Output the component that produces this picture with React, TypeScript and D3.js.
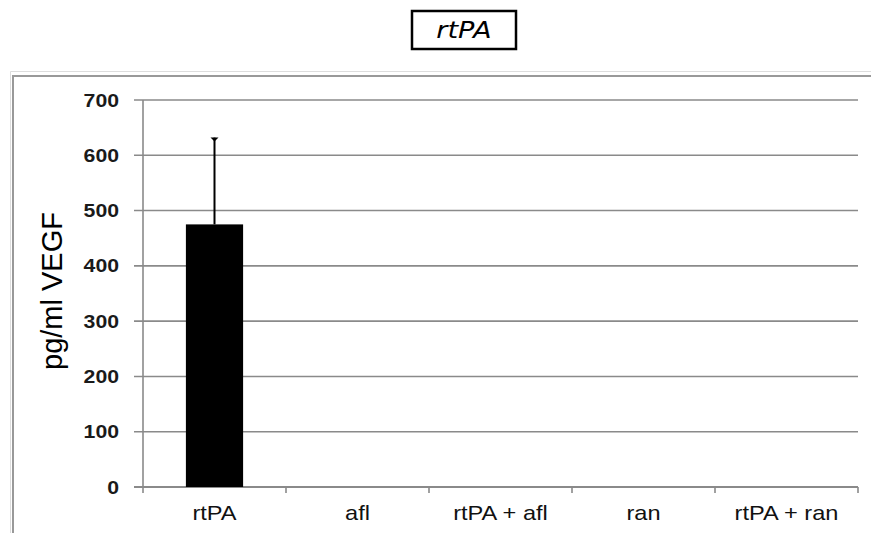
import React from "react";
import * as d3 from "d3";

const categories = ["rtPA", "afl", "rtPA + afl", "ran", "rtPA + ran"];
const values = [475, 0, 0, 0, 0];
const errors = [157, 0, 0, 0, 0];
const yTicks = [0, 100, 200, 300, 400, 500, 600, 700];

export default function App() {
  const W = 871, H = 533;
  const left = 143, right = 858, top = 100, bottom = 487;
  const x = d3.scaleBand().domain(categories).range([left, right]).paddingInner(0.6).paddingOuter(0.3);
  const xb = d3.scaleBand().domain(categories).range([left, right]);
  const y = d3.scaleLinear().domain([0, 700]).range([bottom, top]);
  const font = "Arial, 'Liberation Sans', sans-serif";
  const sx = 1.18;
  return (
    <svg width={W} height={H} style={{ position: "absolute", left: 0, top: 0 }}>
      <rect width={W} height={H} fill="#fff" />
      {/* title */}
      <rect x={412} y={11} width={104} height={38} fill="none" stroke="#000" strokeWidth={2.5} />
      <text transform={`translate(464,38) scale(${sx},1)`} textAnchor="middle" fontFamily="'DejaVu Sans', sans-serif" fontStyle="italic" fontSize={23}>rtPA</text>
      {/* frame */}
      <path d={`M10.5,${H} V71.5 H${W}`} fill="none" stroke="#ddd" strokeWidth={1} />
      <path d={`M13,${H} V76 H${W}`} fill="none" stroke="#999" strokeWidth={2} />
      {/* gridlines */}
      {yTicks.map((t) => (
        <g key={t}>
          <line x1={134} x2={right} y1={y(t)} y2={y(t)} stroke="#8a8a8a" strokeWidth={t === 0 ? 2 : 1.6} />
          <text transform={`translate(119,${y(t) + 6.5}) scale(${sx},1)`} textAnchor="end" fontFamily={font} fontWeight="bold" fontSize={18} fill="#1a1a1a">{t}</text>
        </g>
      ))}
      {/* y axis */}
      <line x1={left} x2={left} y1={top} y2={bottom + 6} stroke="#8a8a8a" strokeWidth={1.6} />
      {/* x ticks */}
      {categories.map((c) => (
        <line key={"t" + c} x1={(xb(c) as number) + xb.bandwidth()} x2={(xb(c) as number) + xb.bandwidth()} y1={bottom} y2={bottom + 6} stroke="#8a8a8a" strokeWidth={1.6} />
      ))}
      {/* bars */}
      {categories.map((c, i) => (
        values[i] > 0 ? (
          <g key={"b" + c}>
            <line x1={(x(c) as number) + x.bandwidth() / 2} x2={(x(c) as number) + x.bandwidth() / 2} y1={y(values[i])} y2={y(values[i] + errors[i])} stroke="#000" strokeWidth={2} />
            <path d={`M${(x(c) as number) + x.bandwidth() / 2 - 4},${y(values[i] + errors[i])} h8 l-4,4 z`} fill="#000" />
            <rect x={x(c)} y={y(values[i])} width={x.bandwidth()} height={bottom - y(values[i])} fill="#000" />
          </g>
        ) : null
      ))}
      {/* x labels */}
      {categories.map((c) => (
        <text key={"l" + c} transform={`translate(${(xb(c) as number) + xb.bandwidth() / 2},520) scale(${sx},1)`} textAnchor="middle" fontFamily={font} fontSize={20} fill="#111">{c}</text>
      ))}
      {/* y title */}
      <text transform={`translate(62,291) rotate(-90)`} textAnchor="middle" fontFamily={font} fontSize={29} fill="#000">pg/ml VEGF</text>
    </svg>
  );
}
